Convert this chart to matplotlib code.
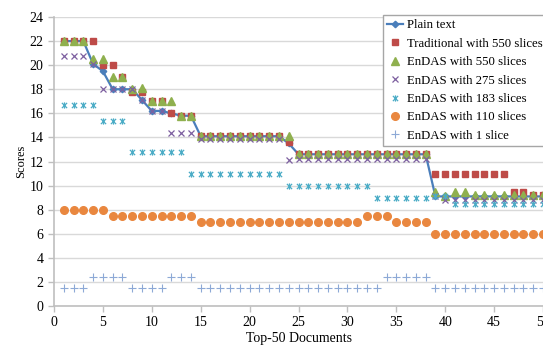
import numpy as np
import matplotlib.pyplot as plt
from matplotlib.path import Path

# --- data (scores for each of the top-50 documents) ---
docs = np.arange(1, 51)

plain_text = [22, 22, 22, 20.1, 19.5, 18, 18, 18, 17.1, 16.2,
              16.2, 16.0, 15.8, 15.8, 14.1, 14.1, 14.1, 14.1, 14.1, 14.1,
              14.1, 14.1, 14.1, 13.5, 12.6, 12.6, 12.6, 12.6, 12.6, 12.6,
              12.6, 12.6, 12.6, 12.6, 12.6, 12.6, 12.6, 12.6, 9.1, 9.1,
              9.1, 9.1, 9.1, 9.1, 9.1, 9.1, 9.1, 9.1, 9.1, 9.1]

trad_550 = [22, 22, 22, 22, 20, 20, 19, 17.8, 17.8, 17,
            17, 16, 15.8, 15.8, 14.1, 14.1, 14.1, 14.1, 14.1, 14.1,
            14.1, 14.1, 14.1, 13.6, 12.6, 12.6, 12.6, 12.6, 12.6, 12.6,
            12.6, 12.6, 12.6, 12.6, 12.6, 12.6, 12.6, 12.6, 11, 11,
            11, 11, 11, 11, 11, 11, 9.5, 9.5, 9.2, 9.2]

endas_550 = [22, 22, 22, 20.5, 20.5, 19, 19, 18, 18.1, 17,
             17, 17, 15.8, 15.8, 14.1, 14.1, 14.1, 14.1, 14.1, 14.1,
             14.1, 14.1, 14.1, 14.1, 12.6, 12.6, 12.6, 12.6, 12.6, 12.6,
             12.6, 12.6, 12.6, 12.6, 12.6, 12.6, 12.6, 12.6, 9.5, 9.1,
             9.5, 9.5, 9.2, 9.2, 9.2, 9.2, 9.2, 9.2, 9.2, 9.2]

endas_275 = [20.8, 20.8, 20.8, 20.1, 18, 18, 18, 18, 17.1, 16.2,
             16.2, 14.4, 14.4, 14.4, 13.9, 13.9, 13.9, 13.9, 13.9, 13.9,
             13.9, 13.9, 13.9, 12.1, 12.2, 12.2, 12.2, 12.2, 12.2, 12.2,
             12.2, 12.2, 12.2, 12.2, 12.2, 12.2, 12.2, 12.2, 9.1, 8.8,
             8.8, 8.8, 8.8, 8.8, 8.8, 8.8, 8.8, 8.8, 8.8, 8.8]

endas_183 = [16.7, 16.7, 16.7, 16.7, 15.4, 15.4, 15.4, 12.8, 12.8, 12.8,
             12.8, 12.8, 12.8, 11, 11, 11, 11, 11, 11, 11,
             11, 11, 11, 10, 10, 10, 10, 10, 10, 10,
             10, 10, 9, 9, 9, 9, 9, 9, 9.1, 9.1,
             8.5, 8.5, 8.5, 8.5, 8.5, 8.5, 8.5, 8.5, 8.5, 8.5]

endas_110 = [8, 8, 8, 8, 8, 7.5, 7.5, 7.5, 7.5, 7.5,
             7.5, 7.5, 7.5, 7.5, 7, 7, 7, 7, 7, 7,
             7, 7, 7, 7, 7, 7, 7, 7, 7, 7,
             7, 7.5, 7.5, 7.5, 7, 7, 7, 7, 6, 6,
             6, 6, 6, 6, 6, 6, 6, 6, 6, 6]

endas_1 = [1.5, 1.5, 1.5, 2.4, 2.4, 2.4, 2.4, 1.5, 1.5, 1.5,
           1.5, 2.4, 2.4, 2.4, 1.5, 1.5, 1.5, 1.5, 1.5, 1.5,
           1.5, 1.5, 1.5, 1.5, 1.5, 1.5, 1.5, 1.5, 1.5, 1.5,
           1.5, 1.5, 1.5, 2.4, 2.4, 2.4, 2.4, 2.4, 1.5, 1.5,
           1.5, 1.5, 1.5, 1.5, 1.5, 1.5, 1.5, 1.5, 1.5, 1.5]

# Excel-like "star" marker: an x with a vertical stroke
star = Path([(-1, -1), (1, 1), (-1, 1), (1, -1), (0, -1.2), (0, 1.2)],
            [Path.MOVETO, Path.LINETO, Path.MOVETO, Path.LINETO, Path.MOVETO, Path.LINETO])

plt.rcParams['font.family'] = ['Liberation Serif', 'DejaVu Serif']

fig = plt.figure(figsize=(5.43, 3.47), dpi=100)
ax = fig.add_axes([54 / 543, 41 / 347, 1 - 54 / 543, (306 - 17) / 347])

ax.plot(docs, plain_text, color='#4A7EBB', lw=1.6, marker='D', ms=3.3,
        label='Plain text', zorder=3)
ax.plot(docs, trad_550, ls='none', marker='s', ms=5, color='#BE4B48',
        label='Traditional with 550 slices', zorder=4)
ax.plot(docs, endas_550, ls='none', marker='^', ms=5.5, color='#8FB04E',
        label='EnDAS with 550 slices', zorder=5)
ax.plot(docs, endas_275, ls='none', marker='x', ms=4.5, mew=0.9, color='#7D60A0',
        label='EnDAS with 275 slices', zorder=6)
ax.plot(docs, endas_183, ls='none', marker=star, ms=4.5, mew=0.9, color='#4BACC6',
        label='EnDAS with 183 slices', zorder=7)
ax.plot(docs, endas_110, ls='none', marker='o', ms=5.5, color='#E9873F',
        label='EnDAS with 110 slices', zorder=8)
ax.plot(docs, endas_1, ls='none', marker='+', ms=5.5, mew=0.8, color='#8DA9D6',
        label='EnDAS with 1 slice', zorder=9)

ax.set_xlim(0, 50)
ax.set_ylim(0, 24)
ax.set_xticks(np.arange(0, 51, 5))
ax.set_yticks(np.arange(0, 25, 2))
ax.tick_params(labelsize=10, color='#BFBFBF', length=4, width=1)
ax.grid(axis='y', color='#D9D9D9', lw=1)
ax.set_axisbelow(True)
for side in ['top', 'right']:
    ax.spines[side].set_visible(False)
for side in ['left', 'bottom']:
    ax.spines[side].set_color('#BFBFBF')
    ax.spines[side].set_linewidth(1.2)

ax.set_xlabel('Top-50 Documents', fontsize=10, labelpad=2)
ax.set_ylabel('Scores', fontsize=9, labelpad=2)

# legend box sits over the top-right corner, as in the original
leg = ax.legend(loc='upper left', bbox_to_anchor=(383 / 543, 1 - 15 / 347),
                bbox_transform=fig.transFigure, fontsize=9.2, frameon=True,
                fancybox=False, framealpha=1, edgecolor='#A6A6A6',
                borderaxespad=0, borderpad=0.35, labelspacing=0.5,
                handlelength=1.2, handletextpad=0.3)
leg.get_frame().set_linewidth(1)
leg.set_zorder(20)

fig.savefig('out.png', dpi=100)
